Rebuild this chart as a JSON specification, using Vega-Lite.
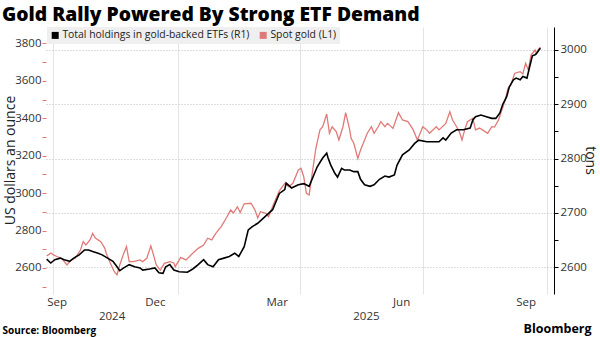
{
  "$schema": "https://vega.github.io/schema/vega-lite/v6.json",
  "width": 508,
  "height": 267,
  "autosize": {"type": "none"},
  "padding": {"left": 46, "top": 27, "right": 46, "bottom": 43},
  "background": "white",
  "title": {"text": "Gold Rally Powered By Strong ETF Demand", "anchor": "start", "frame": "group", "dx": -44, "dy": 19, "offset": 6, "fontSize": 19.3, "fontWeight": 800, "font": "Open Sans", "color": "#000000", "baseline": "alphabetic"},
  "config": {
    "view": {"stroke": null},
    "font": "Open Sans",
    "axis": {"labelColor": "#333333", "labelFontSize": 11.5, "titleColor": "#222222", "titleFontWeight": "normal"}
  },
  "datasets": {
    "gold": [
      {"date": "2024-09-26", "usd": 2664}, {"date": "2024-09-29", "usd": 2680}, {"date": "2024-10-01", "usd": 2670}, {"date": "2024-10-04", "usd": 2660},
      {"date": "2024-10-07", "usd": 2652}, {"date": "2024-10-11", "usd": 2616}, {"date": "2024-10-14", "usd": 2643}, {"date": "2024-10-17", "usd": 2652},
      {"date": "2024-10-21", "usd": 2696}, {"date": "2024-10-23", "usd": 2741}, {"date": "2024-10-25", "usd": 2723}, {"date": "2024-10-28", "usd": 2750},
      {"date": "2024-10-30", "usd": 2785}, {"date": "2024-11-01", "usd": 2760}, {"date": "2024-11-03", "usd": 2750}, {"date": "2024-11-05", "usd": 2741},
      {"date": "2024-11-08", "usd": 2705}, {"date": "2024-11-09", "usd": 2679}, {"date": "2024-11-12", "usd": 2627}, {"date": "2024-11-15", "usd": 2580},
      {"date": "2024-11-17", "usd": 2563}, {"date": "2024-11-19", "usd": 2616}, {"date": "2024-11-22", "usd": 2679}, {"date": "2024-11-24", "usd": 2714},
      {"date": "2024-11-26", "usd": 2634}, {"date": "2024-11-29", "usd": 2634}, {"date": "2024-12-04", "usd": 2643}, {"date": "2024-12-06", "usd": 2634},
      {"date": "2024-12-09", "usd": 2652}, {"date": "2024-12-12", "usd": 2718}, {"date": "2024-12-14", "usd": 2669}, {"date": "2024-12-16", "usd": 2616},
      {"date": "2024-12-19", "usd": 2589}, {"date": "2024-12-22", "usd": 2625}, {"date": "2024-12-26", "usd": 2634}, {"date": "2024-12-29", "usd": 2627},
      {"date": "2024-12-30", "usd": 2607}, {"date": "2025-01-02", "usd": 2643}, {"date": "2025-01-03", "usd": 2657}, {"date": "2025-01-07", "usd": 2643},
      {"date": "2025-01-12", "usd": 2679}, {"date": "2025-01-16", "usd": 2705}, {"date": "2025-01-20", "usd": 2723}, {"date": "2025-01-23", "usd": 2759},
      {"date": "2025-01-26", "usd": 2750}, {"date": "2025-01-29", "usd": 2785}, {"date": "2025-02-02", "usd": 2821}, {"date": "2025-02-06", "usd": 2870},
      {"date": "2025-02-09", "usd": 2910}, {"date": "2025-02-11", "usd": 2894}, {"date": "2025-02-14", "usd": 2927}, {"date": "2025-02-16", "usd": 2897},
      {"date": "2025-02-19", "usd": 2943}, {"date": "2025-02-24", "usd": 2946}, {"date": "2025-02-27", "usd": 2910}, {"date": "2025-03-01", "usd": 2867},
      {"date": "2025-03-03", "usd": 2901}, {"date": "2025-03-07", "usd": 2892}, {"date": "2025-03-09", "usd": 2874}, {"date": "2025-03-13", "usd": 2946},
      {"date": "2025-03-17", "usd": 3012}, {"date": "2025-03-21", "usd": 3052}, {"date": "2025-03-24", "usd": 3035}, {"date": "2025-03-27", "usd": 3053},
      {"date": "2025-03-31", "usd": 3124}, {"date": "2025-04-02", "usd": 3133}, {"date": "2025-04-04", "usd": 3088}, {"date": "2025-04-06", "usd": 2999},
      {"date": "2025-04-08", "usd": 2990}, {"date": "2025-04-11", "usd": 3141}, {"date": "2025-04-13", "usd": 3240}, {"date": "2025-04-16", "usd": 3338},
      {"date": "2025-04-18", "usd": 3355}, {"date": "2025-04-21", "usd": 3423}, {"date": "2025-04-23", "usd": 3320}, {"date": "2025-04-25", "usd": 3355},
      {"date": "2025-04-28", "usd": 3329}, {"date": "2025-04-30", "usd": 3284}, {"date": "2025-05-03", "usd": 3355}, {"date": "2025-05-05", "usd": 3430},
      {"date": "2025-05-08", "usd": 3338}, {"date": "2025-05-09", "usd": 3293}, {"date": "2025-05-11", "usd": 3267}, {"date": "2025-05-14", "usd": 3186},
      {"date": "2025-05-16", "usd": 3231}, {"date": "2025-05-19", "usd": 3284}, {"date": "2025-05-21", "usd": 3320}, {"date": "2025-05-24", "usd": 3355},
      {"date": "2025-05-26", "usd": 3320}, {"date": "2025-05-29", "usd": 3355}, {"date": "2025-05-31", "usd": 3382}, {"date": "2025-06-03", "usd": 3355},
      {"date": "2025-06-05", "usd": 3373}, {"date": "2025-06-09", "usd": 3346}, {"date": "2025-06-13", "usd": 3430}, {"date": "2025-06-16", "usd": 3391},
      {"date": "2025-06-20", "usd": 3382}, {"date": "2025-06-24", "usd": 3338}, {"date": "2025-06-27", "usd": 3284}, {"date": "2025-07-01", "usd": 3355},
      {"date": "2025-07-04", "usd": 3338}, {"date": "2025-07-06", "usd": 3320}, {"date": "2025-07-11", "usd": 3355}, {"date": "2025-07-13", "usd": 3338},
      {"date": "2025-07-18", "usd": 3373}, {"date": "2025-07-21", "usd": 3435}, {"date": "2025-07-23", "usd": 3391}, {"date": "2025-07-26", "usd": 3355},
      {"date": "2025-07-28", "usd": 3329}, {"date": "2025-07-30", "usd": 3284}, {"date": "2025-08-01", "usd": 3338}, {"date": "2025-08-03", "usd": 3382},
      {"date": "2025-08-07", "usd": 3400}, {"date": "2025-08-09", "usd": 3338}, {"date": "2025-08-12", "usd": 3348}, {"date": "2025-08-16", "usd": 3329},
      {"date": "2025-08-18", "usd": 3320}, {"date": "2025-08-21", "usd": 3355}, {"date": "2025-08-23", "usd": 3353}, {"date": "2025-08-26", "usd": 3391},
      {"date": "2025-08-28", "usd": 3435}, {"date": "2025-08-31", "usd": 3498}, {"date": "2025-09-02", "usd": 3560}, {"date": "2025-09-04", "usd": 3578},
      {"date": "2025-09-07", "usd": 3641}, {"date": "2025-09-11", "usd": 3649}, {"date": "2025-09-13", "usd": 3637}, {"date": "2025-09-15", "usd": 3694},
      {"date": "2025-09-17", "usd": 3658}, {"date": "2025-09-19", "usd": 3738}, {"date": "2025-09-22", "usd": 3765}, {"date": "2025-09-23", "usd": 3748},
      {"date": "2025-09-25", "usd": 3774}, {"date": "2025-09-26", "usd": 3780}
    ],
    "etf": [
      {"date": "2024-09-26", "tons": 2615}, {"date": "2024-09-29", "tons": 2608}, {"date": "2024-10-02", "tons": 2614}, {"date": "2024-10-06", "tons": 2617},
      {"date": "2024-10-09", "tons": 2614}, {"date": "2024-10-13", "tons": 2611}, {"date": "2024-10-16", "tons": 2617}, {"date": "2024-10-20", "tons": 2623},
      {"date": "2024-10-24", "tons": 2632}, {"date": "2024-10-27", "tons": 2632}, {"date": "2024-10-30", "tons": 2629}, {"date": "2024-11-03", "tons": 2626},
      {"date": "2024-11-06", "tons": 2623}, {"date": "2024-11-10", "tons": 2617}, {"date": "2024-11-14", "tons": 2611}, {"date": "2024-11-17", "tons": 2601},
      {"date": "2024-11-19", "tons": 2594}, {"date": "2024-11-22", "tons": 2599}, {"date": "2024-11-26", "tons": 2605}, {"date": "2024-11-30", "tons": 2601},
      {"date": "2024-12-04", "tons": 2599}, {"date": "2024-12-06", "tons": 2595}, {"date": "2024-12-11", "tons": 2597}, {"date": "2024-12-15", "tons": 2599},
      {"date": "2024-12-18", "tons": 2590}, {"date": "2024-12-21", "tons": 2589}, {"date": "2024-12-23", "tons": 2601}, {"date": "2024-12-26", "tons": 2605},
      {"date": "2024-12-29", "tons": 2595}, {"date": "2025-01-02", "tons": 2592}, {"date": "2025-01-08", "tons": 2591}, {"date": "2025-01-12", "tons": 2597},
      {"date": "2025-01-16", "tons": 2605}, {"date": "2025-01-20", "tons": 2614}, {"date": "2025-01-23", "tons": 2605}, {"date": "2025-01-27", "tons": 2601},
      {"date": "2025-01-31", "tons": 2614}, {"date": "2025-02-04", "tons": 2617}, {"date": "2025-02-08", "tons": 2620}, {"date": "2025-02-12", "tons": 2626},
      {"date": "2025-02-15", "tons": 2620}, {"date": "2025-02-19", "tons": 2638}, {"date": "2025-02-22", "tons": 2669}, {"date": "2025-02-25", "tons": 2675},
      {"date": "2025-03-01", "tons": 2681}, {"date": "2025-03-05", "tons": 2690}, {"date": "2025-03-08", "tons": 2697}, {"date": "2025-03-12", "tons": 2706},
      {"date": "2025-03-17", "tons": 2736}, {"date": "2025-03-21", "tons": 2743}, {"date": "2025-03-22", "tons": 2755}, {"date": "2025-03-26", "tons": 2746},
      {"date": "2025-03-31", "tons": 2752}, {"date": "2025-04-04", "tons": 2754}, {"date": "2025-04-08", "tons": 2749}, {"date": "2025-04-11", "tons": 2767},
      {"date": "2025-04-14", "tons": 2785}, {"date": "2025-04-18", "tons": 2801}, {"date": "2025-04-21", "tons": 2810}, {"date": "2025-04-22", "tons": 2801},
      {"date": "2025-04-24", "tons": 2788}, {"date": "2025-04-27", "tons": 2773}, {"date": "2025-04-29", "tons": 2766}, {"date": "2025-05-02", "tons": 2782},
      {"date": "2025-05-04", "tons": 2779}, {"date": "2025-05-08", "tons": 2779}, {"date": "2025-05-11", "tons": 2776}, {"date": "2025-05-14", "tons": 2776},
      {"date": "2025-05-16", "tons": 2762}, {"date": "2025-05-19", "tons": 2752}, {"date": "2025-05-23", "tons": 2749}, {"date": "2025-05-26", "tons": 2752},
      {"date": "2025-05-30", "tons": 2762}, {"date": "2025-06-03", "tons": 2768}, {"date": "2025-06-06", "tons": 2766}, {"date": "2025-06-10", "tons": 2770},
      {"date": "2025-06-12", "tons": 2788}, {"date": "2025-06-16", "tons": 2807}, {"date": "2025-06-21", "tons": 2816}, {"date": "2025-06-25", "tons": 2828},
      {"date": "2025-06-28", "tons": 2834}, {"date": "2025-07-04", "tons": 2831}, {"date": "2025-07-08", "tons": 2831}, {"date": "2025-07-13", "tons": 2831},
      {"date": "2025-07-16", "tons": 2838}, {"date": "2025-07-18", "tons": 2834}, {"date": "2025-07-22", "tons": 2847}, {"date": "2025-07-26", "tons": 2853},
      {"date": "2025-07-31", "tons": 2853}, {"date": "2025-08-05", "tons": 2856}, {"date": "2025-08-07", "tons": 2871}, {"date": "2025-08-09", "tons": 2877},
      {"date": "2025-08-13", "tons": 2880}, {"date": "2025-08-17", "tons": 2877}, {"date": "2025-08-21", "tons": 2874}, {"date": "2025-08-24", "tons": 2874},
      {"date": "2025-08-27", "tons": 2884}, {"date": "2025-08-29", "tons": 2899}, {"date": "2025-09-01", "tons": 2914}, {"date": "2025-09-03", "tons": 2932},
      {"date": "2025-09-06", "tons": 2945}, {"date": "2025-09-08", "tons": 2948}, {"date": "2025-09-11", "tons": 2945}, {"date": "2025-09-13", "tons": 2951},
      {"date": "2025-09-16", "tons": 2948}, {"date": "2025-09-18", "tons": 2969}, {"date": "2025-09-20", "tons": 2989}, {"date": "2025-09-22", "tons": 2991},
      {"date": "2025-09-23", "tons": 2993}, {"date": "2025-09-25", "tons": 3000}, {"date": "2025-09-26", "tons": 3003}
    ]
  },
  "layer": [
    {
      "data": {"name": "etf"},
      "mark": {"type": "line", "strokeOpacity": 0},
      "encoding": {
        "x": {"field": "date", "type": "temporal",
          "scale": {"type": "utc", "domain": [{"year": 2024, "month": 9, "date": 25, "hours": 12, "utc": true}, {"year": 2025, "month": 10, "date": 6, "utc": true}]},
          "axis": {"orient": "bottom", "values": [{"year": 2024, "month": 10, "date": 1, "utc": true}, {"year": 2025, "month": 1, "date": 1, "utc": true}, {"year": 2025, "month": 4, "date": 1, "utc": true}, {"year": 2025, "month": 7, "date": 1, "utc": true}, {"year": 2025, "month": 10, "date": 1, "utc": true}],
            "labels": false, "ticks": false, "domain": false, "grid": true, "gridColor": "#e4e4e4", "gridWidth": 1, "title": null}},
        "y": {"field": "tons", "type": "quantitative", "scale": {"domain": [2551, 3042], "nice": false, "zero": false}, "axis": null}
      }
    },
    {
      "data": {"name": "gold"},
      "mark": {"type": "line", "strokeWidth": 1.3, "interpolate": "linear"},
      "encoding": {
        "x": {"field": "date", "type": "temporal",
          "scale": {"type": "utc", "domain": [{"year": 2024, "month": 9, "date": 25, "hours": 12, "utc": true}, {"year": 2025, "month": 10, "date": 6, "utc": true}]},
          "axis": {"orient": "bottom", "values": [{"year": 2024, "month": 9, "date": 26, "utc": true}, {"year": 2024, "month": 12, "date": 15, "utc": true}, {"year": 2025, "month": 3, "date": 15, "utc": true}, {"year": 2025, "month": 6, "date": 15, "utc": true}, {"year": 2025, "month": 9, "date": 15, "utc": true}],
            "labelExpr": "utcFormat(datum.value, '%b')", "labelFlush": 3, "ticks": false, "domain": false, "grid": false, "labelPadding": 2,
            "title": "Bloomberg", "titleX": 477, "titleY": 38, "titleAlign": "left", "titleAnchor": "start", "titleBaseline": "alphabetic", "titleFontSize": 12.5, "titleFontWeight": "bold", "titleColor": "#000000"}},
        "y": {"field": "usd", "type": "quantitative", "scale": {"domain": [2461, 3888], "nice": false, "zero": false},
          "axis": {"orient": "left", "values": [2500, 2600, 2700, 2800, 2900, 3000, 3100, 3200, 3300, 3400, 3500, 3600, 3700, 3800], "format": "d",
            "labelExpr": "datum.value % 200 === 0 ? datum.label : ''", "tickColor": "#e07a78", "tickSize": 4, "domain": false, "grid": false, "labelPadding": 1,
            "title": "US dollars an ounce", "titleFontSize": 14, "titleX": -36, "titleY": 133, "titleAngle": -90, "titleAlign": "center", "titleBaseline": "middle"}},
        "color": {"datum": "Spot gold (L1)", "type": "nominal",
          "scale": {"domain": ["Total holdings in gold-backed ETFs (R1)", "Spot gold (L1)"], "range": ["#000000", "#e07a78"]}}
      }
    },
    {
      "data": {"name": "etf"},
      "mark": {"type": "line", "strokeWidth": 1.6, "interpolate": "linear"},
      "encoding": {
        "x": {"field": "date", "type": "temporal",
          "scale": {"type": "utc", "domain": [{"year": 2024, "month": 9, "date": 25, "hours": 12, "utc": true}, {"year": 2025, "month": 10, "date": 6, "utc": true}]},
          "axis": {"orient": "bottom", "values": [{"year": 2024, "month": 11, "date": 13, "utc": true}, {"year": 2025, "month": 5, "date": 20, "utc": true}],
            "labelExpr": "utcFormat(datum.value, '%Y')", "ticks": false, "domain": false, "grid": false, "labelPadding": 16,
            "title": "Source: Bloomberg", "titleX": -44, "titleY": 39, "titleAlign": "left", "titleAnchor": "start", "titleBaseline": "alphabetic", "titleFontSize": 10, "titleFontWeight": "bold", "titleColor": "#000000"}},
        "y": {"field": "tons", "type": "quantitative", "scale": {"domain": [2551, 3042], "nice": false, "zero": false},
          "axis": {"orient": "right", "values": [2600, 2650, 2700, 2750, 2800, 2850, 2900, 2950, 3000], "format": "d",
            "labelExpr": "datum.value % 100 === 0 ? datum.label : ''", "tickColor": "#000000", "tickSize": 4, "domain": true, "domainColor": "#000000", "domainWidth": 1,
            "grid": true, "gridDash": [1, 2], "gridColor": "#bdbdbd", "gridOpacity": {"condition": {"test": "datum.value % 100 === 0", "value": 1}, "value": 0},
            "labelPadding": 2, "title": "tons", "titleAngle": 90, "titleFontSize": 14, "titleX": 35, "titleY": 133, "titleAlign": "center", "titleBaseline": "middle"}},
        "color": {"datum": "Total holdings in gold-backed ETFs (R1)", "type": "nominal",
          "scale": {"domain": ["Total holdings in gold-backed ETFs (R1)", "Spot gold (L1)"], "range": ["#000000", "#e07a78"]},
          "legend": {"orient": "none", "legendX": 1, "legendY": 0, "direction": "horizontal", "title": null, "fillColor": "#efefef", "padding": 3,
            "symbolType": "square", "symbolSize": 49, "labelFontSize": 10.4, "labelLimit": 0, "labelColor": "#222222", "labelOffset": 2, "columnPadding": 8,
            "encode": {"symbols": {"update": {"fill": {"scale": "color", "field": "value"}, "fillOpacity": {"value": 1}, "strokeWidth": {"value": 0}}}}}
        }
      }
    }
  ],
  "resolve": {"scale": {"y": "independent", "x": "shared"}, "axis": {"x": "independent", "y": "independent"}}
}
